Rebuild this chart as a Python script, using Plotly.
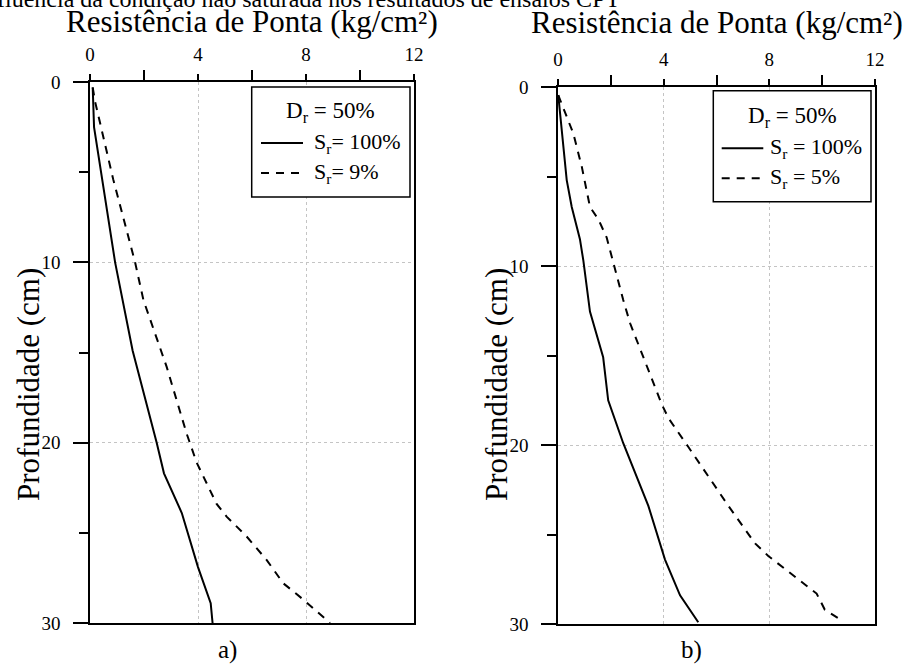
import plotly.graph_objects as go

# Cone tip resistance (kg/cm²) versus depth (cm), Dr = 50%
# Panel a) saturated vs Sr = 9%
depth_a_sat = [0.3, 2.5, 10.0, 12.1, 14.9, 20.0, 21.7, 23.9, 26.9, 28.9, 30.0]
qc_a_sat = [0.10, 0.15, 0.93, 1.20, 1.58, 2.47, 2.74, 3.40, 4.00, 4.47, 4.54]
depth_a_unsat = [0.3, 1.1, 5.4, 10.0, 12.1, 15.8, 19.5, 21.1, 23.4, 24.1, 25.2, 26.5, 27.8, 28.7, 30.0]
qc_a_unsat = [0.10, 0.19, 0.86, 1.67, 1.98, 2.84, 3.58, 3.95, 4.69, 5.06, 5.80, 6.54, 7.16, 7.90, 8.89]

# Panel b) saturated vs Sr = 5%
depth_b_sat = [0.45, 3.3, 5.2, 6.7, 8.5, 9.7, 11.9, 12.55, 15.1, 17.5, 19.9, 23.4, 26.4, 28.4, 29.9]
qc_b_sat = [0.01, 0.20, 0.33, 0.52, 0.83, 0.96, 1.15, 1.21, 1.71, 1.90, 2.47, 3.42, 4.05, 4.62, 5.31]
depth_b_unsat = [0.45, 2.6, 4.45, 6.7, 7.4, 8.4, 11.9, 13.2, 17.7, 18.5, 20.1, 23.4, 25.5, 26.2, 28.3, 29.2, 29.8]
qc_b_unsat = [0.01, 0.58, 0.90, 1.21, 1.53, 1.84, 2.47, 2.73, 3.92, 4.18, 4.93, 6.45, 7.46, 7.96, 9.79, 10.10, 10.74]

x_ticks = [0, 4, 8, 12]
x_minor = [2, 6, 10]
y_ticks = [0, 10, 20, 30]
y_minor = [5, 15, 25]

x_title = "Resistência de Ponta (kg/cm²)"
y_title = "Profundidade (cm)"
header = "Influência da condição não saturada nos resultados de ensaios CPT"
legend_a = ["D<sub>r</sub> = 50%", "S<sub>r</sub>= 100%", "S<sub>r</sub>= 9%"]
legend_b = ["D<sub>r</sub> = 50%", "S<sub>r</sub> = 100%", "S<sub>r</sub> = 5%"]

W, H = 907, 666
FONT = "'Liberation Serif', 'Times New Roman', Times, 'DejaVu Serif', serif"
DASH = "8px,7px"


def px(x):
    return x / W


def py(y):
    return 1 - y / H


fig = go.Figure()
solid = dict(color="black", width=2)
dashed = dict(color="black", width=2, dash=DASH)
fig.add_trace(go.Scatter(x=qc_a_sat, y=depth_a_sat, mode="lines", line=solid, xaxis="x", yaxis="y"))
fig.add_trace(go.Scatter(x=qc_a_unsat, y=depth_a_unsat, mode="lines", line=dashed, xaxis="x", yaxis="y"))
fig.add_trace(go.Scatter(x=qc_b_sat, y=depth_b_sat, mode="lines", line=solid, xaxis="x2", yaxis="y2"))
fig.add_trace(go.Scatter(x=qc_b_unsat, y=depth_b_unsat, mode="lines", line=dashed, xaxis="x2", yaxis="y2"))


def xaxis(domain, anchor):
    return dict(
        domain=domain, anchor=anchor, range=[0, 12], side="top", automargin=False,
        tickvals=x_ticks, ticks="outside", ticklen=6, tickwidth=1.5, tickcolor="black",
        minor=dict(tickvals=x_minor, ticks="outside", ticklen=10, tickwidth=1.5,
                   tickcolor="black", showgrid=False),
        showline=True, linecolor="black", linewidth=1.5, mirror=True,
        showgrid=True, gridcolor="#c4c4c4", griddash="dot", gridwidth=1,
        zeroline=False, ticklabelstandoff=6,
        tickfont=dict(family=FONT, size=19, color="black"),
    )


def yaxis(domain, anchor):
    return dict(
        domain=domain, anchor=anchor, range=[30, 0], automargin=False,
        tickvals=y_ticks, ticks="outside", ticklen=15, tickwidth=1.5, tickcolor="black",
        minor=dict(tickvals=y_minor, ticks="outside", ticklen=9, tickwidth=1.5,
                   tickcolor="black", showgrid=False),
        showline=True, linecolor="black", linewidth=1.5, mirror=True,
        showgrid=True, gridcolor="#c4c4c4", griddash="dot", gridwidth=1,
        zeroline=False, ticklabelstandoff=9,
        tickfont=dict(family=FONT, size=19, color="black"),
    )


fig.update_layout(
    width=W, height=H, margin=dict(l=0, r=0, t=0, b=0, pad=0, autoexpand=False),
    paper_bgcolor="white", plot_bgcolor="white", showlegend=False,
    xaxis=xaxis([px(90), px(414)], "y"),
    yaxis=yaxis([py(623), py(82)], "x"),
    xaxis2=xaxis([px(558), px(875)], "y2"),
    yaxis2=yaxis([py(624), py(87)], "x2"),
    font=dict(family=FONT, color="black"),
)

ann = []


def text(s, x, y, size, xanchor="center", yanchor="middle", angle=0):
    ann.append(dict(text=s, x=px(x), y=py(y), xref="paper", yref="paper",
                    xanchor=xanchor, yanchor=yanchor, textangle=angle, showarrow=False,
                    font=dict(family=FONT, size=size, color="black")))


# header line partly outside the page
text(header, 622, 14, 24, xanchor="right", yanchor="bottom")
# axis titles
text(x_title, 251.7, 21, 31)
text(x_title, 716.7, 23, 31)
text(y_title, 28, 385, 31, angle=-90)
text(y_title, 496, 385, 31, angle=-90)
# panel captions
text("a)", 227.5, 650, 25)
text("b)", 691, 650, 25)

shapes = []


def legend_box(x0, x1, y0, y1, labels, rows, line_x0, line_x1, text_x):
    shapes.append(dict(type="rect", xref="paper", yref="paper",
                       x0=px(x0), x1=px(x1), y0=py(y1), y1=py(y0),
                       line=dict(color="black", width=1.5), fillcolor="white"))
    text(labels[0], (x0 + x1) / 2, rows[0], 23)
    shapes.append(dict(type="line", xref="paper", yref="paper",
                       x0=px(line_x0), x1=px(line_x1), y0=py(rows[1]), y1=py(rows[1]),
                       line=dict(color="black", width=2)))
    shapes.append(dict(type="line", xref="paper", yref="paper",
                       x0=px(line_x0), x1=px(line_x1), y0=py(rows[2]), y1=py(rows[2]),
                       line=dict(color="black", width=2, dash=DASH)))
    text(labels[1], text_x, rows[1], 22, xanchor="left")
    text(labels[2], text_x, rows[2], 22, xanchor="left")


legend_box(251.7, 410, 87, 197, legend_a, [112, 143, 173], 261, 303, 312)
legend_box(713.3, 871, 90.7, 201.7, legend_b, [117, 148.3, 178.3], 721.7, 763.3, 768)

fig.update_layout(annotations=ann, shapes=shapes)
fig.write_html("out.html")
